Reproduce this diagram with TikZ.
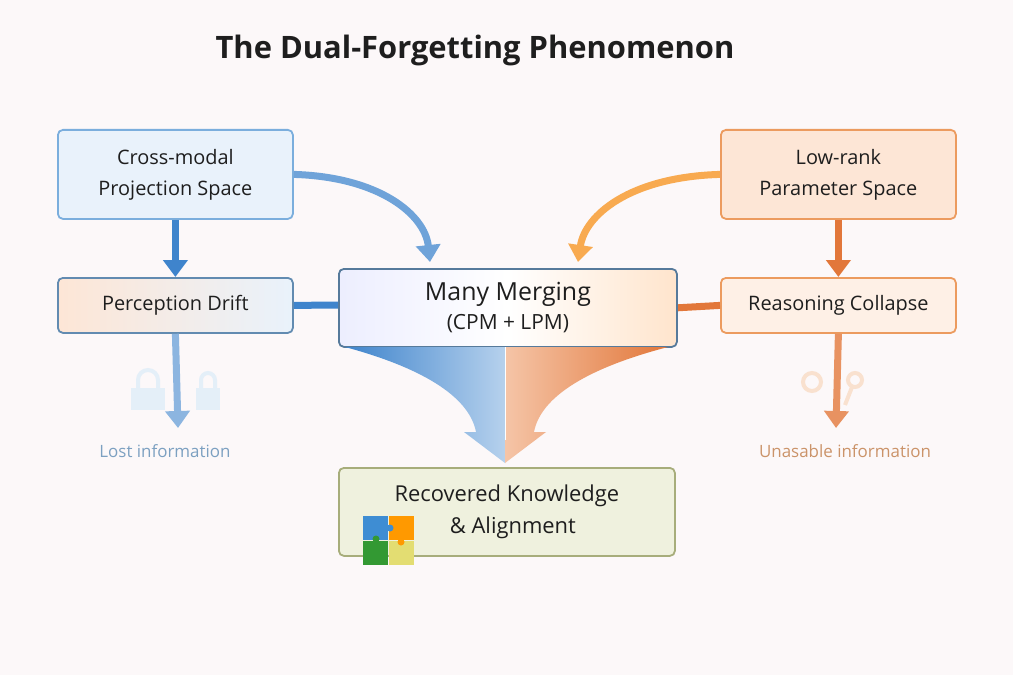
\documentclass[tikz,border=0pt]{standalone}
\usepackage{fontspec}
\setmainfont{Open Sans}
\usetikzlibrary{arrows.meta}
\definecolor{bg}{HTML}{FCF8F9}
\definecolor{bfill}{HTML}{E9F2FB}
\definecolor{bline}{HTML}{7BAEDD}
\definecolor{barrow}{HTML}{3F84CC}
\definecolor{ofill}{HTML}{FDE6D6}
\definecolor{oline}{HTML}{EC9B5F}
\definecolor{oarrow}{HTML}{E2773A}
\definecolor{gfill}{HTML}{EFF1DE}
\definecolor{gline}{HTML}{A7AD7B}
\definecolor{txt}{HTML}{1E1E1E}
\definecolor{yarrow}{HTML}{F8AA50}
\begin{document}
\begin{tikzpicture}[x=1bp,y=-1bp,
  box/.style={draw, line width=1.8bp, rounded corners=5bp, text=txt, align=center, font=\fontsize{20}{31}\selectfont, anchor=north west, inner sep=0pt},
  arr/.style={line width=7bp, -{Triangle[width=24bp,length=17bp]}},
  lbl/.style={font=\fontsize{17}{20}\selectfont}]
\fill[bg] (0,0) rectangle (1013,675);
\useasboundingbox (0,0) rectangle (1013,675);
\node[font=\bfseries\fontsize{31}{36}\selectfont, text=txt] (title) at (475,50) {The Dual-Forgetting Phenomenon};

\node[box, fill=bfill, draw=bline, minimum width=235bp, minimum height=89bp] (cm) at (57,129) {Cross-modal\\Projection Space};
\node[box, draw=bline!80!black, left color=ofill, right color=bfill, minimum width=235bp, minimum height=55bp] (pd) at (57,277) {Perception Drift};
\node[box, fill=ofill, draw=oline, minimum width=235bp, minimum height=89bp] (lr) at (720,129) {Low-rank\\Parameter Space};
\node[box, fill=ofill!60!white, draw=oline, minimum width=235bp, minimum height=55bp] (rc) at (720,277) {Reasoning Collapse};

% links
\draw[barrow, line width=7bp] (pd.east) -- (340,305);
\draw[oarrow, line width=7bp] (rc.west) -- (674,308);

\node[box, draw=bline!70!black, left color=bfill!70!blue!20, right color=ofill!60!orange!40, middle color=white, minimum width=338bp, minimum height=78bp, font=\fontsize{25}{30}\selectfont] (mm) at (338,268) {Many Merging\\[-1pt]{\fontsize{21}{25}\selectfont(CPM + LPM)}};
\node[box, fill=gfill, draw=gline, minimum width=336bp, minimum height=88bp, font=\fontsize{22}{32}\selectfont] (rk) at (338,467) {Recovered Knowledge\\\hspace*{12bp}\& Alignment};

\draw[arr, barrow] (cm.south) -- (pd.north);
\draw[arr, oarrow] (lr.south) -- (rc.north);
\coordinate (lost) at (178,428);
\coordinate (unus) at (836,428);
\draw[arr, barrow!60!white] (pd.south) -- (lost);
\draw[arr, oarrow!80!white] (rc.south) -- (unus);
\coordinate (mi) at (430,262);
\coordinate (mo) at (578,262);
\draw[arr, barrow!75!white] (cm.east) .. controls (380,177) and (425,215) .. (mi);
\draw[arr, yarrow] (lr.west) .. controls (630,177) and (585,215) .. (mo);

% funnel
\shade[left color=barrow, right color=bfill!70!barrow] (345,347) .. controls (430,370) and (470,400) .. (476,432) -- (464,432) -- (505,463) -- (505,347) -- cycle;
\shade[left color=ofill!70!oarrow, right color=oarrow] (668,347) .. controls (580,370) and (540,400) .. (534,432) -- (546,432) -- (505,463) -- (505,347) -- cycle;
\draw[white, line width=1bp] (505,347) -- (505,440);

\node[lbl, text=bline!70!gray] (li) at (165,451) {Lost information};
\node[lbl, text=oline!70!gray] (ui) at (845,451) {Unasable information};

% faint locks
\foreach \x/\s in {148/1,208/0.7}{
  \fill[bline!20] (\x-17*\s,388) rectangle (\x+17*\s,410);
  \draw[bline!20, line width=4bp] (\x-10*\s,388) -- (\x-10*\s,380) arc (180:360:10*\s) -- (\x+10*\s,388);
}
% faint keys
\draw[oline!30, line width=4bp] (812,382) circle (9);
\draw[oline!30, line width=4bp] (855,380) circle (7) (852,387) -- (845,405);

% puzzle
\fill[cyan!60!blue!80] (363,516) rectangle (388,540);
\fill[orange!80!yellow] (389,516) rectangle (414,540);
\fill[green!50!black!80] (363,541) rectangle (388,565);
\fill[yellow!50!olive!50] (389,541) rectangle (414,565);
\fill[cyan!60!blue!80] (390,528) circle (3.5);
\fill[orange!80!yellow] (401,542) circle (3.5);
\fill[green!50!black!80] (376,539) circle (3.5);
\end{tikzpicture}
\end{document}
